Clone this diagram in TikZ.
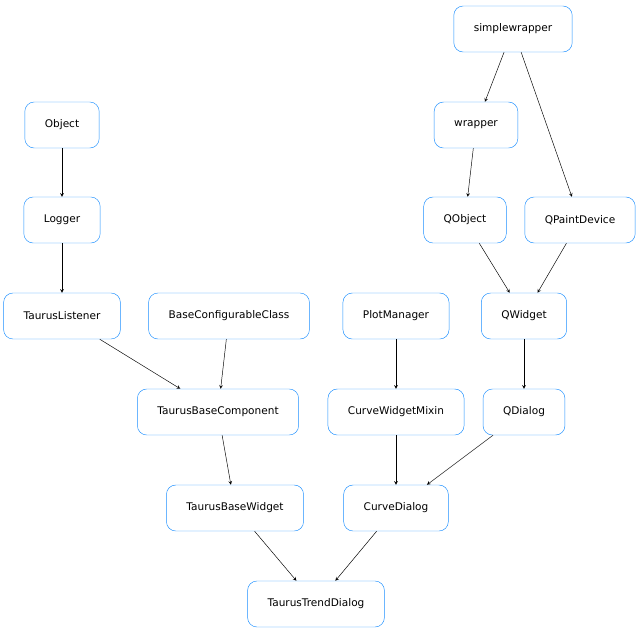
\documentclass[tikz,border=0pt]{standalone}
\usepackage{fontspec}
\setmainfont{DejaVu Sans}
\tikzset{>=stealth}
\definecolor{boxColor}{RGB}{30,144,255}
\tikzset{cls/.style={draw=boxColor, rounded corners=8pt, minimum height=1.38cm,
    inner xsep=0.6cm, font=\fontsize{9}{11}\selectfont, fill=white},
  inh/.style={->, black, thin}}
\begin{document}
\begin{tikzpicture}[x=0.03cm, y=-0.03cm]
				\useasboundingbox (0,0) rectangle (640,635);
				% qt side
				\node [cls] (simplewrapper) at (513,29) {simplewrapper};
				\node [cls] (wrapper) at (476,125) {wrapper};
				\node [cls] (QObject) at (465,220) {QObject};
				\node [cls] (QPaintDevice) at (580,220) {QPaintDevice};
				\node [cls] (QWidget) at (524,316) {QWidget};
				\node [cls] (QDialog) at (524,412) {QDialog};
				% taurus side
				\node [cls] (Object) at (62,125) {Object};
				\node [cls] (Logger) at (62,220) {Logger};
				\node [cls] (TaurusListener) at (62,316) {TaurusListener};
				\node [cls] (BaseConfigurableClass) at (229,316) {BaseConfigurableClass};
				\node [cls] (PlotManager) at (396,316) {PlotManager};
				\node [cls] (TaurusBaseComponent) at (218,412) {TaurusBaseComponent};
				\node [cls] (CurveWidgetMixin) at (396,412) {CurveWidgetMixin};
				\node [cls] (TaurusBaseWidget) at (235,508) {TaurusBaseWidget};
				\node [cls] (CurveDialog) at (396,508) {CurveDialog};
				\node [cls] (TaurusTrendDialog) at (316,604) {TaurusTrendDialog};
				% inheritance
				\draw [inh] (simplewrapper) -- (wrapper);
				\draw [inh] (simplewrapper) -- (QPaintDevice);
				\draw [inh] (wrapper) -- (QObject);
				\draw [inh] (QObject) -- (QWidget);
				\draw [inh] (QPaintDevice) -- (QWidget);
				\draw [inh] (QWidget) -- (QDialog);
				\draw [inh] (Object) -- (Logger);
				\draw [inh] (Logger) -- (TaurusListener);
				\draw [inh] (TaurusListener) -- (TaurusBaseComponent);
				\draw [inh] (BaseConfigurableClass) -- (TaurusBaseComponent);
				\draw [inh] (PlotManager) -- (CurveWidgetMixin);
				\draw [inh] (TaurusBaseComponent) -- (TaurusBaseWidget);
				\draw [inh] (CurveWidgetMixin) -- (CurveDialog);
				\draw [inh] (QDialog) -- (CurveDialog);
				\draw [inh] (TaurusBaseWidget) -- (TaurusTrendDialog);
				\draw [inh] (CurveDialog) -- (TaurusTrendDialog);
\end{tikzpicture}
\end{document}
